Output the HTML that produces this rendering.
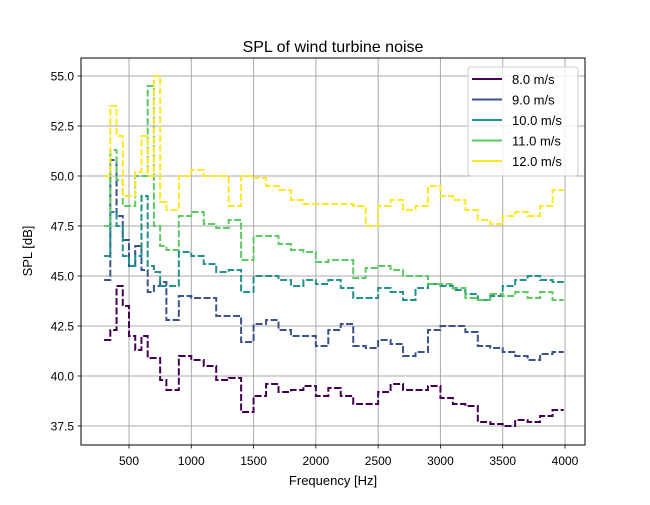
<!DOCTYPE html>
<html><head><meta charset="utf-8"><style>
body{margin:0;background:#fff;}
svg text{font-family:"Liberation Sans","DejaVu Sans",sans-serif;fill:#000;}
</style></head><body>
<svg id="chart" width="650" height="500" viewBox="0 0 650 500" xmlns="http://www.w3.org/2000/svg">
<rect width="650" height="500" fill="#fff"/>
<g id="grid"></g>
<g id="series"></g>
<rect x="81" y="58" width="504" height="387" fill="none" stroke="#000" stroke-width="1"/>
<g id="xticks"></g>
<g id="yticks"></g>
<text x="333" y="52" font-size="16" text-anchor="middle">SPL of wind turbine noise</text>
<text x="333" y="485" font-size="13" text-anchor="middle">Frequency [Hz]</text>
<text transform="translate(32,251) rotate(-90)" font-size="13" text-anchor="middle">SPL [dB]</text>
<g id="legend">
<rect x="468" y="67" width="110" height="109" rx="3" fill="#fff" fill-opacity="0.8" stroke="#ccc"/>
</g>
</svg>
<script>
const freqs = [300,350,400,450,500,550,600,650,700,750,800,900,1000,1100,1200,1300,1400,1500,1600,1700,1800,1900,2000,2100,2200,2300,2400,2500,2600,2700,2800,2900,3000,3100,3200,3300,3400,3500,3600,3700,3800,3900];
const fEnd = 3990;
const labels = ["8.0 m/s","9.0 m/s","10.0 m/s","11.0 m/s","12.0 m/s"];
const colors = ["#440154","#3b528b","#21918c","#5ec962","#fde725"];
const s8 = [41.8,42.3,44.5,43.5,42.0,41.3,42.0,40.9,40.9,39.8,39.3,41.0,40.8,40.5,39.8,39.9,38.2,39.0,39.6,39.2,39.3,39.5,39.0,39.4,39.0,38.6,38.6,39.2,39.6,39.3,39.3,39.5,38.9,38.6,38.5,37.7,37.6,37.5,37.8,37.7,38.0,38.3];
const s9 = [44.8,50.8,48.0,46.8,45.5,46.5,45.3,44.2,44.5,44.7,42.8,44.0,43.9,43.9,43.0,43.0,41.7,42.6,42.8,42.3,42.0,42.0,41.5,42.3,42.6,41.5,41.4,41.8,41.6,41.0,41.2,42.3,42.5,42.5,42.2,41.5,41.4,41.2,41.0,40.8,41.1,41.2];
const s10 = [46.0,48.2,47.5,46.0,45.5,46.0,49.0,45.5,45.2,44.5,44.5,46.2,46.0,45.6,45.2,45.3,44.2,45.0,45.0,44.8,44.5,44.8,44.6,44.8,44.4,43.9,43.9,44.4,44.2,43.8,44.4,44.6,44.5,44.3,44.1,43.8,44.0,44.5,44.8,45.0,44.8,44.7];
const s11 = [47.5,51.3,49.8,48.5,48.5,50.0,50.0,54.5,47.5,46.5,46.3,48.0,48.2,47.6,47.4,47.8,45.8,47.0,47.0,46.6,46.3,46.2,45.7,45.8,45.8,44.9,45.4,45.5,45.3,45.0,45.0,44.6,44.6,44.4,43.9,43.8,44.1,44.0,44.2,43.9,44.2,43.8];
const s12 = [50.0,53.5,52.0,49.0,49.0,50.2,52.0,50.0,55.0,48.7,48.3,50.0,50.3,50.0,50.0,48.5,50.0,49.9,49.5,49.3,48.8,48.6,48.6,48.6,48.6,48.5,47.5,48.5,48.8,48.3,48.5,49.5,49.0,48.8,48.3,47.8,47.6,48.0,48.2,48.0,48.5,49.3];
const xTicks = [500,1000,1500,2000,2500,3000,3500,4000];
const yTicks = [37.5,40.0,42.5,45.0,47.5,50.0,52.5,55.0];

const NS = "http://www.w3.org/2000/svg";
function xs(f){return 129 + (f-500)*(436/3500);}
function ys(v){return 76 + (55-v)*20;}
function mk(tag, attrs, parent){const e=document.createElementNS(NS,tag);for(const k in attrs)e.setAttribute(k,attrs[k]);parent.appendChild(e);return e;}
const grid=document.getElementById('grid'), xt=document.getElementById('xticks'), yt=document.getElementById('yticks');
xTicks.forEach(t=>{
  const x=xs(t);
  const g=mk('line',{x1:x,x2:x,y1:58,y2:445,stroke:'#aaaaaa','stroke-width':1},grid);
  
  
  const tk=mk('line',{x1:x,x2:x,y1:445,y2:448.5,stroke:'#000','stroke-width':0.8},xt);
  
  
  const tx=mk('text',{x:x,y:465,'font-size':12,'text-anchor':'middle'},xt);
  tx.textContent=t;
  
  
});
yTicks.forEach(t=>{
  const y=ys(t);
  const g=mk('line',{x1:81,x2:585,y1:y,y2:y,stroke:'#aaaaaa','stroke-width':1},grid);
  
  
  const tk=mk('line',{x1:77.5,x2:81,y1:y,y2:y,stroke:'#000','stroke-width':0.8},yt);
  
  
  const tx=mk('text',{x:74,y:y+4.5,'font-size':12,'text-anchor':'end'},yt);
  tx.textContent=t.toFixed(1);
  
  
});
const all=[s8,s9,s10,s11,s12];
const sg=document.getElementById('series');
all.forEach((s,k)=>{
  let d='M'+xs(freqs[0]).toFixed(2)+','+ys(s[0]).toFixed(2);
  for(let i=0;i<s.length;i++){
    const fn = i+1<freqs.length?freqs[i+1]:fEnd;
    d+=' H'+xs(fn).toFixed(2);
    if(i+1<s.length) d+=' V'+ys(s[i+1]).toFixed(2);
  }
  const p=mk('path',{d:d,fill:'none',stroke:colors[k],'stroke-width':2,'stroke-dasharray':'7 2.5'},sg);
  
  
});
const lg=document.getElementById('legend');
labels.forEach((l,k)=>{
  const y=79+k*20.5;
  const ln=mk('line',{x1:472,x2:502,y1:y,y2:y,stroke:colors[k],'stroke-width':2},lg);
  
  
  const tx=mk('text',{x:512,y:y+5,'font-size':13},lg);
  tx.textContent=l;
  
  
});
</script>
</body></html>
